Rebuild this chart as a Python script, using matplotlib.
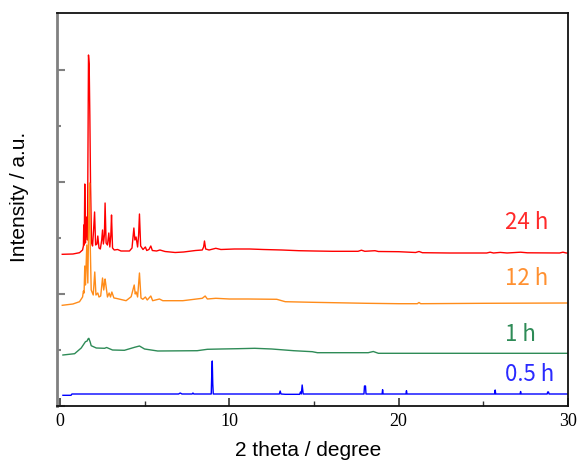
import matplotlib
matplotlib.use("Agg")
import matplotlib.pyplot as plt
from matplotlib.ticker import MultipleLocator, NullFormatter, FixedLocator

# ---------------- data (2theta in degree, intensity in a.u. above each trace's baseline) ----
tt_24h = [0.13, 0.76, 1.15, 1.33, 1.38, 1.40, 1.43, 1.46, 1.50, 1.55, 1.62, 1.68, 1.72, 1.76,
          1.80, 1.86, 1.92, 1.98, 2.04, 2.10, 2.18, 2.23, 2.30, 2.38, 2.46, 2.51, 2.56, 2.62,
          2.66, 2.72, 2.80, 2.88, 2.94, 3.00, 3.04, 3.10, 3.20, 3.40, 3.60, 4.10, 4.25, 4.36,
          4.42, 4.49, 4.58, 4.64, 4.69, 4.76, 4.90, 5.04, 5.12, 5.25, 5.36, 5.45, 5.70, 5.90,
          6.20, 6.80, 7.30, 8.00, 8.40, 8.48, 8.53, 8.60, 8.80, 9.20, 9.50, 10.3, 11.2, 12.0,
          13.1, 14.1, 15.0, 16.1, 17.6, 17.8, 18.0, 18.6, 18.8, 20.0, 21.0, 21.2, 21.4, 23.0,
          25.2, 25.4, 25.6, 26.0, 26.4, 27.2, 27.6, 29.5, 29.7, 29.9, 30.0]
int_24h = [-1.3, -1.0, 0.3, 3, 7, 28, 8, 69, 10, 36, 13, 198, 189, 137,
           70, 10, 7, 23, 41, 8, 9, 17, 5, 4, 13, 23, 9, 18,
           50, 10, 8, 20, 6, 18, 38, 5, 3, 3.5, 2, 2, 5, 25,
           13, 16, 6, 18, 39, 7, 3.5, 6, 2.5, 3.5, 7, 2.5, 2, 3,
           1.5, 0.5, 1, 2.5, 3, 6, 12, 4, 3, 4.7, 3.5, 4, 4, 3.5,
           3, 2.3, 2, 1.7, 1.7, 2.8, 1.7, 2.3, 1.5, 1.3, 0.5, 1.5, 0.3, 0,
           0, 0.8, 0, 0.6, 0, 0.8, 0.2, 0, 0.8, 0, 0]

tt_12h = [0.13, 0.76, 1.15, 1.33, 1.38, 1.42, 1.46, 1.50, 1.58, 1.64, 1.70, 1.74, 1.78, 1.84,
          1.96, 2.05, 2.12, 2.23, 2.30, 2.40, 2.51, 2.58, 2.66, 2.70, 2.80, 2.90, 2.98, 3.06,
          3.18, 3.30, 3.90, 4.20, 4.38, 4.44, 4.50, 4.58, 4.69, 4.78, 4.89, 5.04, 5.15, 5.36,
          5.47, 5.87, 6.07, 7.25, 8.40, 8.57, 8.70, 9.20, 10.0, 11.1, 12.8, 13.3, 14.9, 18.1,
          20.0, 21.1, 21.2, 21.3, 25.0, 30.0]
int_12h = [-2.3, -1.0, 1.3, 6, 12, 10, 37, 18, 58, 20, 90, 120, 60, 13,
           8, 31, 8, 10, 6, 7, 25, 13, 24, 19, 6, 10, 6, 11,
           5, 4.7, 2.3, 6.3, 18, 9, 11, 6, 30, 5, 3.7, 6, 3, 7,
           2.3, 4, 2.3, 2.3, 4.7, 7, 4, 4.7, 4, 4, 3.7, 1.3, 0.7, -0.3,
           -0.7, -0.7, 0.5, -0.7, -0.3, 0]

tt_1h = [0.17, 0.86, 1.25, 1.50, 1.60, 1.65, 1.70, 1.78, 1.84, 2.14, 2.63, 2.75, 3.10, 3.80,
         4.40, 4.69, 4.99, 5.77, 8.10, 8.70, 9.50, 10.5, 11.5, 12.5, 13.8, 14.9, 15.2, 18.2,
         18.5, 18.8, 30.0]
int_1h = [-2, -0.7, 5, 11.3, 12, 14, 14.7, 11, 7.3, 5, 4.7, 5.5, 3, 2.7,
          5.7, 7, 4, 2, 2.3, 3.7, 4, 4.3, 4.7, 4, 2.3, 1.3, 0.3, 0.3,
          1.5, -0.3, -0.3]

tt_05h = [0.17, 0.65, 0.70, 7.00, 7.10, 7.20, 7.80, 7.85, 7.90, 8.93, 8.96, 8.99, 9.02, 9.05,
          12.95, 13.00, 13.05, 13.30, 14.15, 14.20, 14.25, 14.30, 14.36, 17.95, 17.98, 18.04,
          18.07, 19.02, 19.05, 19.08, 20.43, 20.46, 20.49, 25.67, 25.70, 25.73, 27.17, 27.20,
          27.23, 28.77, 28.80, 28.85, 28.88, 30.0]
int_05h = [-1.3, -1.3, 0, 0, 1, 0, 0, 1, 0, 0, 20, 33, 10, 0,
           0, 3, 0, -0.3, -0.3, 2, 0, 9, 0, 0, 8, 8,
           0, 0, 4.3, 0, 0, 3.3, 0, 0, 4, 0, 0, 2.5,
           0, 0, 2, 2, 0, 0]

labels = ["24 h", "12 h", "1 h", "0.5 h"]
offsets = [153, 103, 53, 12]
line_colors = ["#ff0000", "#ff8c1a", "#2e8b57", "#0000ff"]
text_colors = ["#ff2a2a", "#ff9030", "#2e8b57", "#2a2aff"]
label_x = 26.3
label_y = [176.7, 121, 65.3, 25]

series = [(tt_24h, int_24h), (tt_12h, int_12h), (tt_1h, int_1h), (tt_05h, int_05h)]

# ---------------- figure ----------------
fig = plt.figure(figsize=(5.78, 4.63), dpi=100)
ax = fig.add_axes([57 / 578, 57 / 463, 511 / 578, 393 / 463])

for (tt, inten), off, c in zip(series, offsets, line_colors):
    ax.plot(tt, [off + v for v in inten], color=c, lw=1.0)

for lab, ly, c in zip(labels, label_y, text_colors):
    ax.text(label_x, ly, lab, color=c, fontsize=16, ha="left", va="baseline",
            family=["Noto Sans CJK JP", "DejaVu Sans"])

ax.set_xlim(-0.18, 30)
ax.set_ylim(0, 393)

ax.xaxis.set_major_locator(FixedLocator([0, 10, 20, 30]))
ax.xaxis.set_minor_locator(FixedLocator([5, 15, 25]))
ax.yaxis.set_major_locator(FixedLocator([0, 112, 224, 336]))
ax.yaxis.set_minor_locator(FixedLocator([56, 168, 280]))
ax.yaxis.set_major_formatter(NullFormatter())

ax.tick_params(axis="x", which="major", direction="in", length=6, width=1.2,
               color="#333333", pad=5, labelsize=13, top=False)
ax.tick_params(axis="x", which="minor", direction="in", length=3.5, width=1.0,
               color="#333333", top=False)
ax.tick_params(axis="y", which="major", direction="in", length=6, width=1.5,
               color="#808080", right=False)
ax.tick_params(axis="y", which="minor", direction="in", length=3, width=1.5,
               color="#808080", right=False)
for lab in ax.get_xticklabels():
    lab.set_family("Liberation Serif")

for side in ["top", "right", "bottom"]:
    ax.spines[side].set_color("#111111")
    ax.spines[side].set_linewidth(1.3)
ax.spines["left"].set_color("#808080")
ax.spines["left"].set_linewidth(2.0)

ax.set_xlabel("2 theta / degree", fontsize=15, family="Liberation Sans")
ax.set_ylabel("Intensity / a.u.", fontsize=15, family="Liberation Sans")
ax.xaxis.set_label_coords(0.491, -0.089)
ax.yaxis.set_label_coords(-0.054, 0.532)

fig.savefig("out.png", dpi=100)
